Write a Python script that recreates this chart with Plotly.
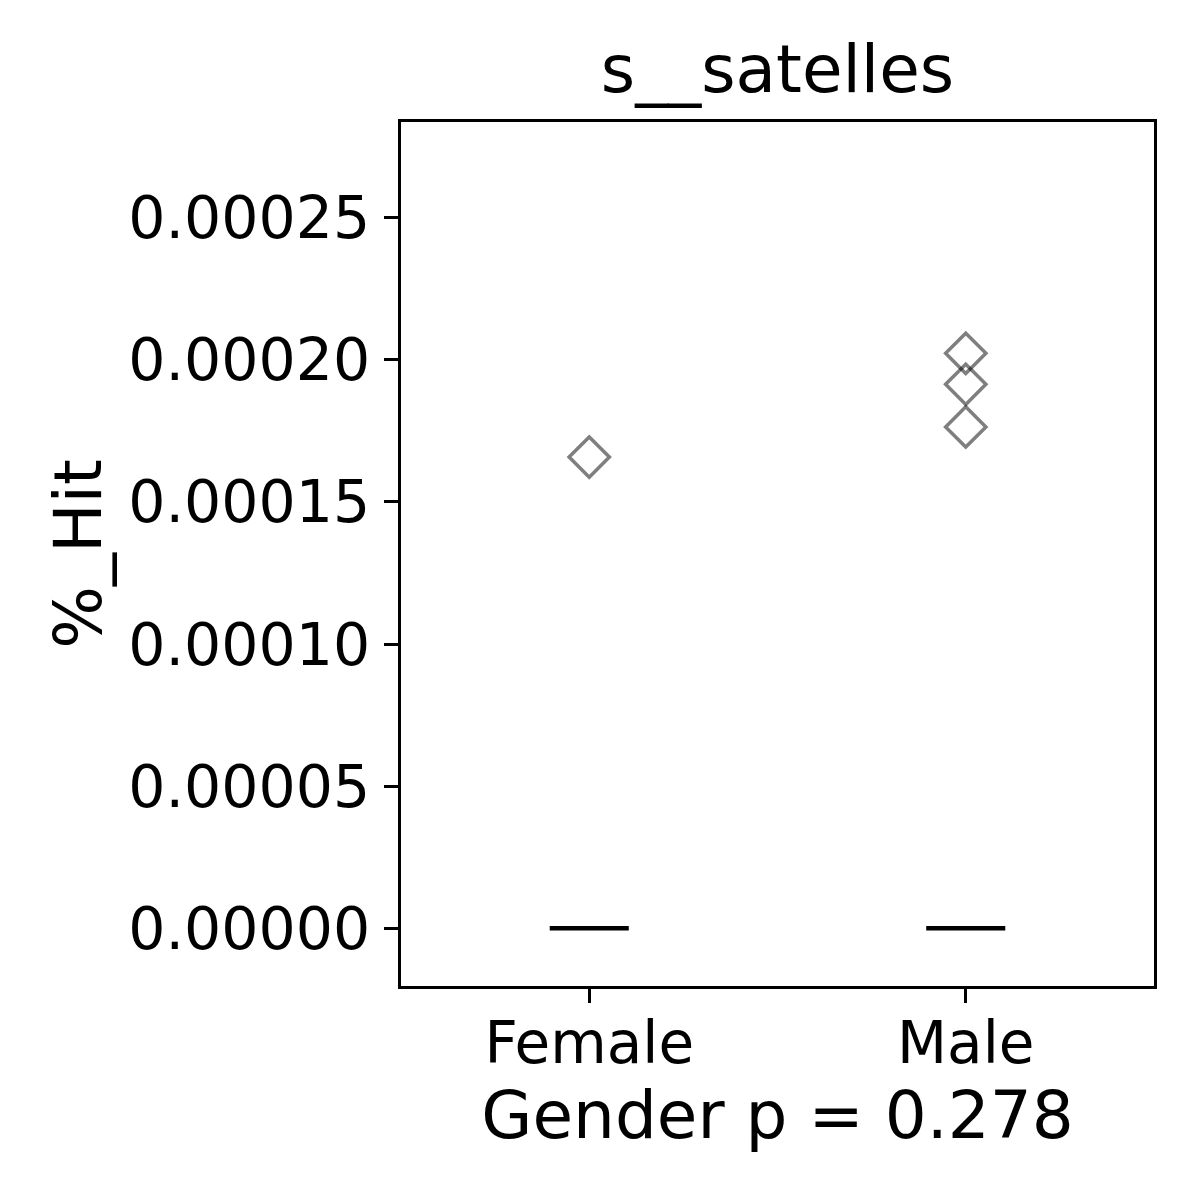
import plotly.graph_objects as go

categories = ["Female", "Male"]
q1_vals = [0.0, 0.0]
median_vals = [0.0, 0.0]
q3_vals = [0.0, 0.0]
low_vals = [0.0, 0.0]
high_vals = [0.0, 0.0]
female_outliers = [0.0001658]
male_outliers = [0.0002023, 0.0001914, 0.0001764]
y_ticks = [0.0, 0.00005, 0.0001, 0.00015, 0.0002, 0.00025]
title_text = "s__satelles"
x_label = "Gender p = 0.278"
y_label = "%_Hit"

FONT = "DejaVu Sans"

fig = go.Figure()
fig.add_trace(go.Box(
    x=categories, q1=q1_vals, median=median_vals, q3=q3_vals,
    lowerfence=low_vals, upperfence=high_vals,
    width=0.21, line=dict(color="black", width=4.5),
    fillcolor="rgba(0,0,0,0)", boxpoints=False, showlegend=False,
    whiskerwidth=0.5,
))
outliers = {"Female": female_outliers, "Male": male_outliers}
for cat in categories:
    vals = outliers[cat]
    fig.add_trace(go.Scatter(
        x=[cat] * len(vals), y=vals, mode="markers", showlegend=False,
        marker=dict(symbol="diamond-open", size=31,
                    color="rgba(0,0,0,0.5)",
                    line=dict(color="rgba(0,0,0,0.5)", width=3.5)),
    ))

fig.update_layout(
    width=1200, height=1200,
    margin=dict(l=393, r=54, t=114, b=222),
    plot_bgcolor="white", paper_bgcolor="white",
    font=dict(family=FONT, color="black", size=58),
    title=dict(text=title_text, x=(393 + 1146) / 2 / 1200, xanchor="center",
               y=1 - 61 / 1200, yanchor="middle", yref="container",
               font=dict(size=66, family=FONT, color="black")),
)
fig.update_xaxes(
    type="category", range=[-0.5, 1.5], showline=True, mirror=True,
    linecolor="black", linewidth=3.3, ticks="outside", ticklen=14, tickwidth=3.3,
    tickcolor="black", showgrid=False, zeroline=False,
    tickfont=dict(size=58), ticklabelstandoff=-10,
    title=dict(text=x_label, font=dict(size=66), standoff=12),
)
fig.update_yaxes(
    range=[-0.0000203, 0.0002837], showline=True, mirror=True,
    linecolor="black", linewidth=3.3, ticks="outside", ticklen=14, tickwidth=3.3,
    tickcolor="black", showgrid=False, zeroline=False,
    tickvals=y_ticks, tickformat=".5f", tickfont=dict(size=58.5),
    ticklabelstandoff=2,
    title=dict(text=y_label, font=dict(size=66), standoff=6),
)

fig.write_html("out.html")
